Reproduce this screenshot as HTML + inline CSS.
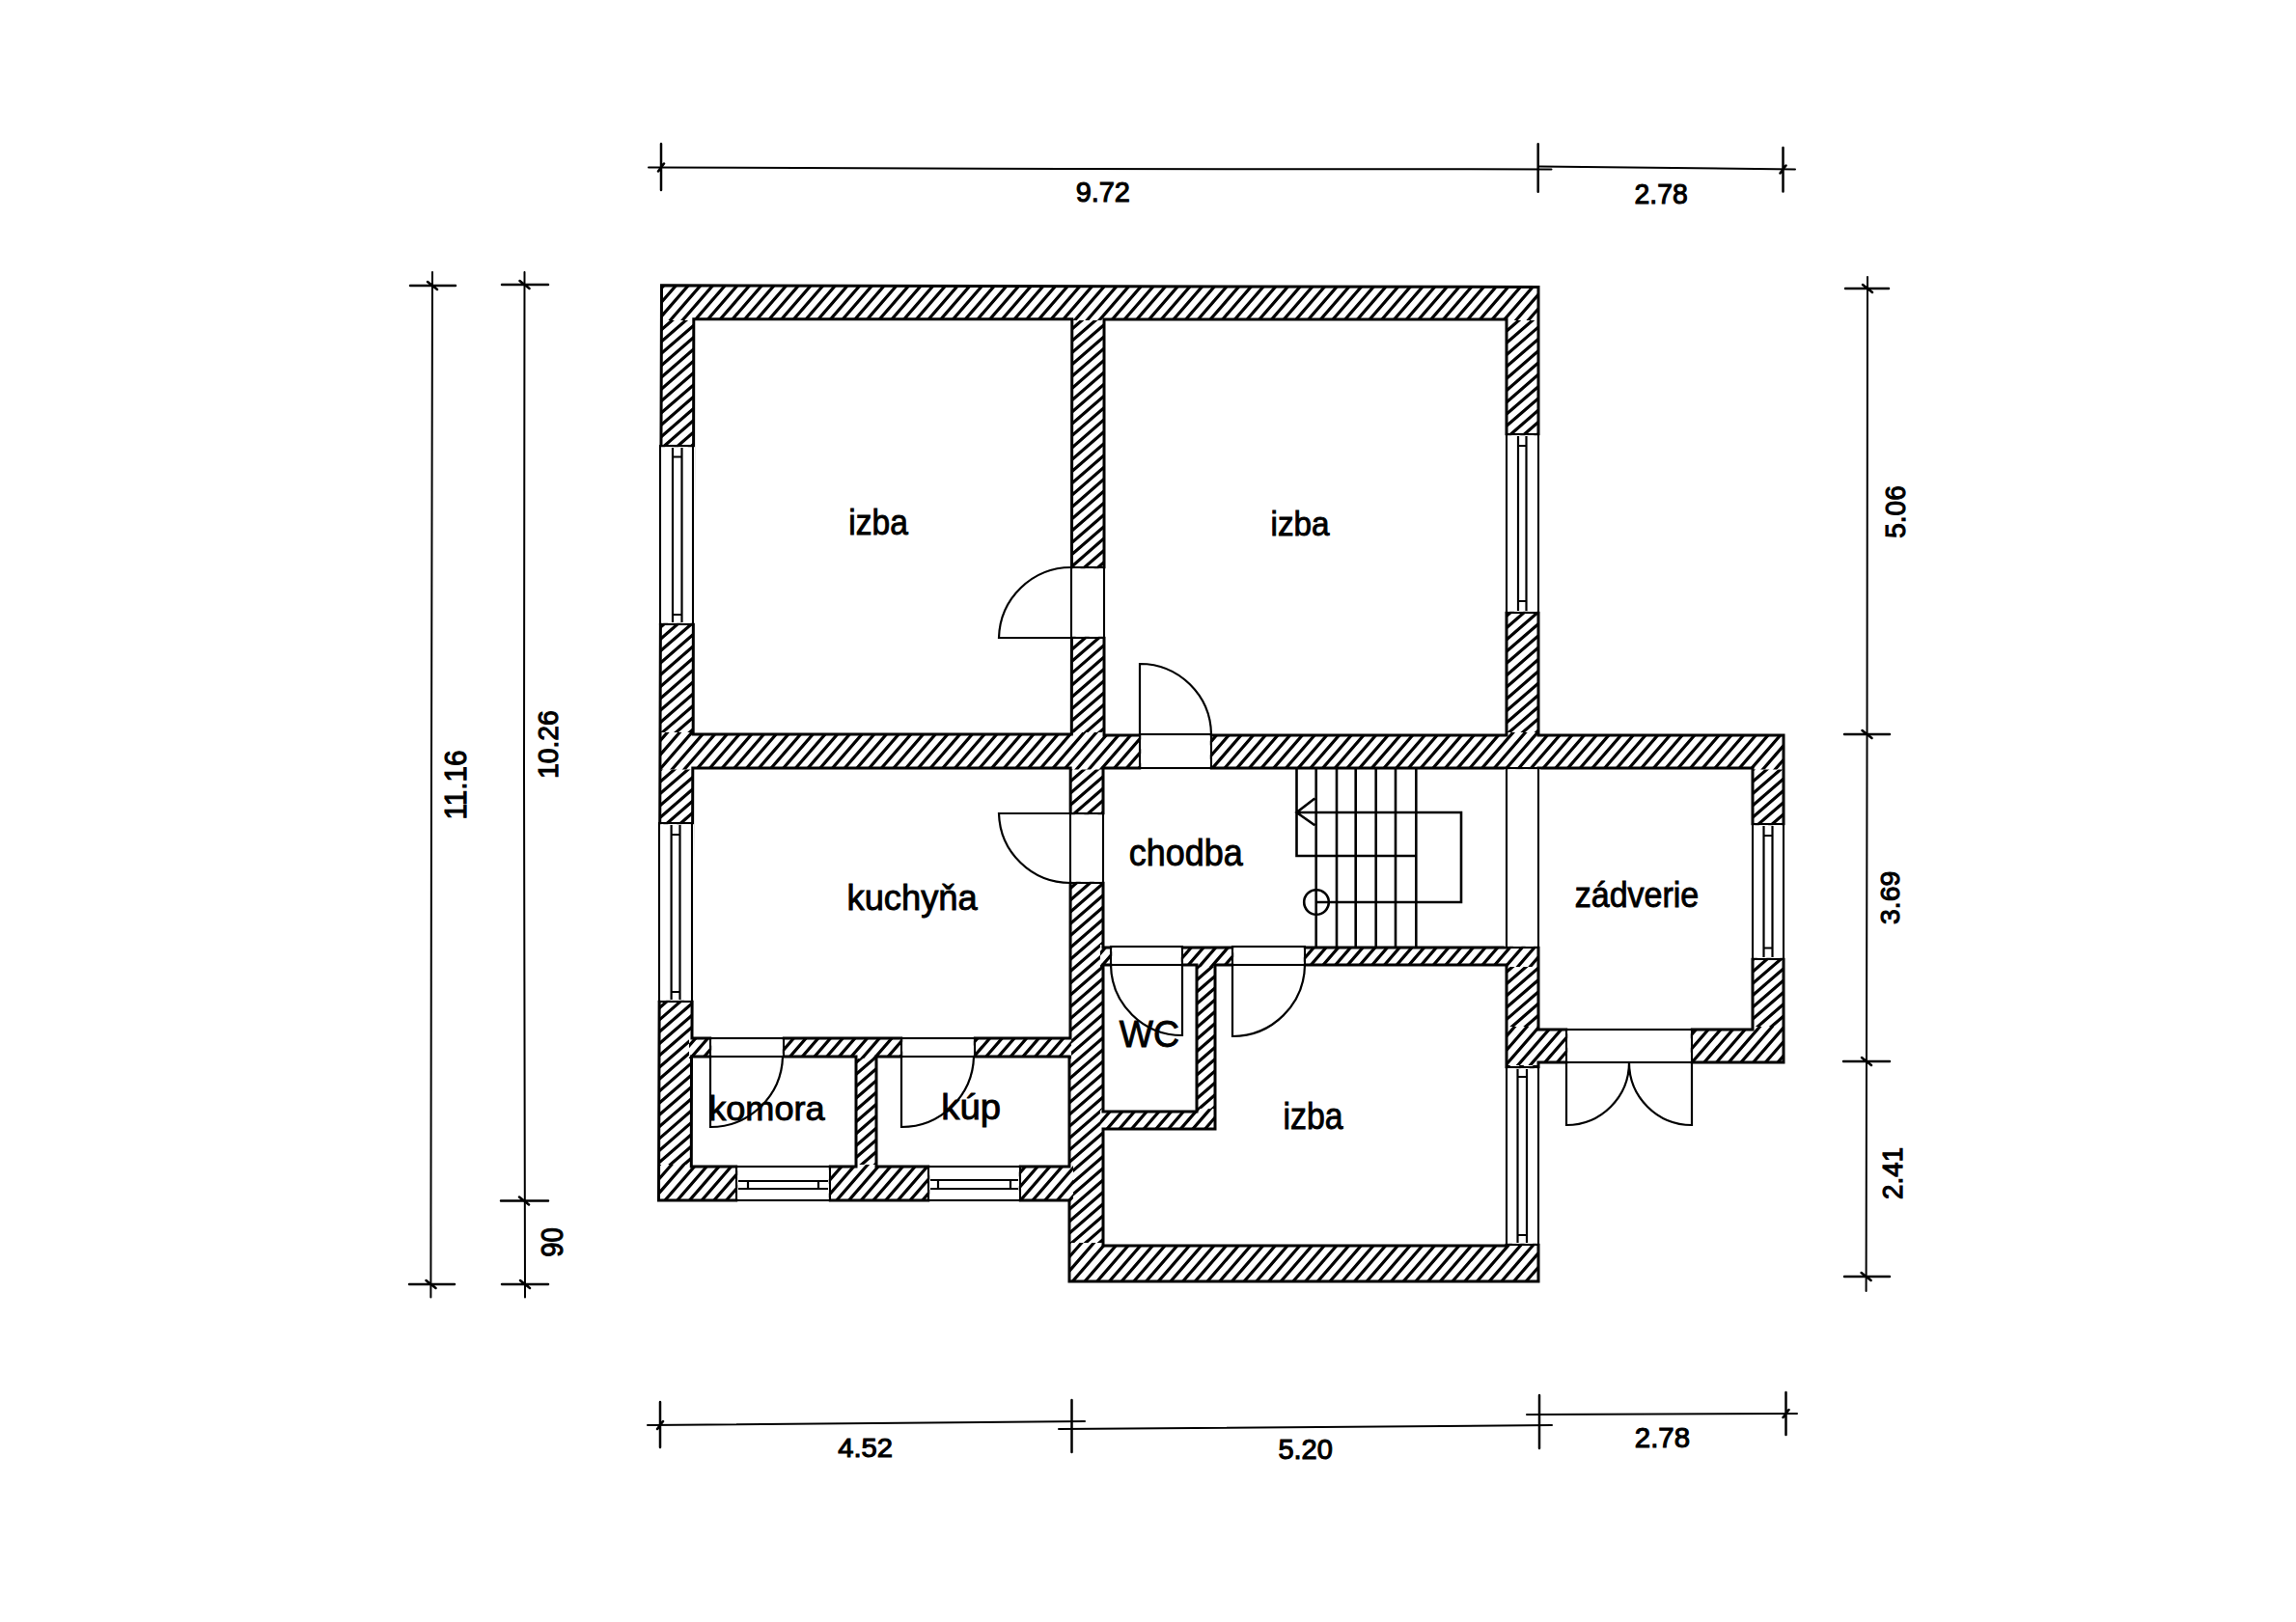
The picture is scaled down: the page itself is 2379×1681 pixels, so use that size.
<!DOCTYPE html>
<html><head><meta charset="utf-8"><title>Floor plan</title>
<style>html,body{margin:0;padding:0;background:#fff;}svg{display:block;}text{font-family:"Liberation Sans",sans-serif;fill:#000;stroke:#000;}</style>
</head><body>
<svg width="2379" height="1681" viewBox="0 0 2379 1681">
<defs><clipPath id="wc"><path clip-rule="evenodd" d="M685.5,295.8 L1594,297.5 L1594,762 L1848,762 L1848,1101 L1594,1101 L1594,1328 L1108,1328 L1108,1244 L682.5,1244 Z M718.8,330.8 L1110.8,330.8 L1110.3,761 L718.2,761 Z M1144,331 L1561,331 L1561,762 L1144,762 Z M717.8,796 L1109.2,796 L1109,1076 L717,1076 Z M1143,796 L1561,796 L1561,982 L1143,982 Z M1594,796 L1816,796 L1816,1067 L1594,1067 Z M1143,1000 L1240,1000 L1240,1152 L1143,1152 Z M1259,1000 L1561,1000 L1561,1291 L1143,1291 L1143,1170 L1259,1170 Z M716.5,1095 L887,1095 L887,1209 L716.3,1209 Z M908,1095 L1108,1095 L1108,1209 L908,1209 Z"/></clipPath><clipPath id="hc"><path d="M678,288 H1600 V332 H678 Z M678,759 H1852 V797.5 H678 Z M714,1073 H1110 V1097 H714 Z M678,1207 H1112 V1248 H678 Z M1140,979 H1598 V1002 H1140 Z M1140,1149 H1262 V1173 H1140 Z M1104,1288 H1598 V1332 H1104 Z M1556,1064 H1852 V1104 H1556 Z"/></clipPath><clipPath id="vc"><path clip-rule="evenodd" d="M0,0 H2379 V1681 H0 Z M678,288 H1600 V332 H678 Z M678,759 H1852 V797.5 H678 Z M714,1073 H1110 V1097 H714 Z M678,1207 H1112 V1248 H678 Z M1140,979 H1598 V1002 H1140 Z M1140,1149 H1262 V1173 H1140 Z M1104,1288 H1598 V1332 H1104 Z M1556,1064 H1852 V1104 H1556 Z"/></clipPath></defs>
<g clip-path="url(#wc)"><g clip-path="url(#hc)"><path d="M5.17,0 L-1456.10,1681 M17.87,0 L-1443.40,1681 M30.57,0 L-1430.70,1681 M43.27,0 L-1418.00,1681 M55.97,0 L-1405.30,1681 M68.67,0 L-1392.60,1681 M81.37,0 L-1379.90,1681 M94.07,0 L-1367.20,1681 M106.77,0 L-1354.50,1681 M119.47,0 L-1341.80,1681 M132.17,0 L-1329.10,1681 M144.87,0 L-1316.40,1681 M157.57,0 L-1303.70,1681 M170.27,0 L-1291.00,1681 M182.97,0 L-1278.30,1681 M195.67,0 L-1265.60,1681 M208.37,0 L-1252.90,1681 M221.07,0 L-1240.20,1681 M233.77,0 L-1227.50,1681 M246.47,0 L-1214.80,1681 M259.17,0 L-1202.10,1681 M271.87,0 L-1189.40,1681 M284.57,0 L-1176.70,1681 M297.27,0 L-1164.00,1681 M309.97,0 L-1151.30,1681 M322.67,0 L-1138.60,1681 M335.37,0 L-1125.90,1681 M348.07,0 L-1113.20,1681 M360.77,0 L-1100.50,1681 M373.47,0 L-1087.80,1681 M386.17,0 L-1075.10,1681 M398.87,0 L-1062.40,1681 M411.57,0 L-1049.70,1681 M424.27,0 L-1037.00,1681 M436.97,0 L-1024.30,1681 M449.67,0 L-1011.60,1681 M462.37,0 L-998.90,1681 M475.07,0 L-986.20,1681 M487.77,0 L-973.50,1681 M500.47,0 L-960.80,1681 M513.17,0 L-948.10,1681 M525.87,0 L-935.40,1681 M538.57,0 L-922.70,1681 M551.27,0 L-910.00,1681 M563.97,0 L-897.30,1681 M576.67,0 L-884.60,1681 M589.37,0 L-871.90,1681 M602.07,0 L-859.20,1681 M614.77,0 L-846.50,1681 M627.47,0 L-833.80,1681 M640.17,0 L-821.10,1681 M652.87,0 L-808.40,1681 M665.57,0 L-795.70,1681 M678.27,0 L-783.00,1681 M690.97,0 L-770.30,1681 M703.67,0 L-757.60,1681 M716.37,0 L-744.90,1681 M729.07,0 L-732.20,1681 M741.77,0 L-719.50,1681 M754.47,0 L-706.80,1681 M767.17,0 L-694.10,1681 M779.87,0 L-681.40,1681 M792.57,0 L-668.70,1681 M805.27,0 L-656.00,1681 M817.97,0 L-643.30,1681 M830.67,0 L-630.60,1681 M843.37,0 L-617.90,1681 M856.07,0 L-605.20,1681 M868.77,0 L-592.50,1681 M881.47,0 L-579.80,1681 M894.17,0 L-567.10,1681 M906.87,0 L-554.40,1681 M919.57,0 L-541.70,1681 M932.27,0 L-529.00,1681 M944.97,0 L-516.30,1681 M957.67,0 L-503.60,1681 M970.37,0 L-490.90,1681 M983.07,0 L-478.20,1681 M995.77,0 L-465.50,1681 M1008.47,0 L-452.80,1681 M1021.17,0 L-440.10,1681 M1033.87,0 L-427.40,1681 M1046.57,0 L-414.70,1681 M1059.27,0 L-402.00,1681 M1071.97,0 L-389.30,1681 M1084.67,0 L-376.60,1681 M1097.37,0 L-363.90,1681 M1110.07,0 L-351.20,1681 M1122.77,0 L-338.50,1681 M1135.47,0 L-325.80,1681 M1148.17,0 L-313.10,1681 M1160.87,0 L-300.40,1681 M1173.57,0 L-287.70,1681 M1186.27,0 L-275.00,1681 M1198.97,0 L-262.30,1681 M1211.67,0 L-249.60,1681 M1224.37,0 L-236.90,1681 M1237.07,0 L-224.20,1681 M1249.77,0 L-211.50,1681 M1262.47,0 L-198.80,1681 M1275.17,0 L-186.10,1681 M1287.87,0 L-173.40,1681 M1300.57,0 L-160.70,1681 M1313.27,0 L-148.00,1681 M1325.97,0 L-135.30,1681 M1338.67,0 L-122.60,1681 M1351.37,0 L-109.90,1681 M1364.07,0 L-97.20,1681 M1376.77,0 L-84.50,1681 M1389.47,0 L-71.80,1681 M1402.17,0 L-59.10,1681 M1414.87,0 L-46.40,1681 M1427.57,0 L-33.70,1681 M1440.27,0 L-21.00,1681 M1452.97,0 L-8.30,1681 M1465.67,0 L4.40,1681 M1478.37,0 L17.10,1681 M1491.07,0 L29.80,1681 M1503.77,0 L42.50,1681 M1516.47,0 L55.20,1681 M1529.17,0 L67.90,1681 M1541.87,0 L80.60,1681 M1554.57,0 L93.30,1681 M1567.27,0 L106.00,1681 M1579.97,0 L118.70,1681 M1592.67,0 L131.40,1681 M1605.37,0 L144.10,1681 M1618.07,0 L156.80,1681 M1630.77,0 L169.50,1681 M1643.47,0 L182.20,1681 M1656.17,0 L194.90,1681 M1668.87,0 L207.60,1681 M1681.57,0 L220.30,1681 M1694.27,0 L233.00,1681 M1706.97,0 L245.70,1681 M1719.67,0 L258.40,1681 M1732.37,0 L271.10,1681 M1745.07,0 L283.80,1681 M1757.77,0 L296.50,1681 M1770.47,0 L309.20,1681 M1783.17,0 L321.90,1681 M1795.87,0 L334.60,1681 M1808.57,0 L347.30,1681 M1821.27,0 L360.00,1681 M1833.97,0 L372.70,1681 M1846.67,0 L385.40,1681 M1859.37,0 L398.10,1681 M1872.07,0 L410.80,1681 M1884.77,0 L423.50,1681 M1897.47,0 L436.20,1681 M1910.17,0 L448.90,1681 M1922.87,0 L461.60,1681 M1935.57,0 L474.30,1681 M1948.27,0 L487.00,1681 M1960.97,0 L499.70,1681 M1973.67,0 L512.40,1681 M1986.37,0 L525.10,1681 M1999.07,0 L537.80,1681 M2011.77,0 L550.50,1681 M2024.47,0 L563.20,1681 M2037.17,0 L575.90,1681 M2049.87,0 L588.60,1681 M2062.57,0 L601.30,1681 M2075.27,0 L614.00,1681 M2087.97,0 L626.70,1681 M2100.67,0 L639.40,1681 M2113.37,0 L652.10,1681 M2126.07,0 L664.80,1681 M2138.77,0 L677.50,1681 M2151.47,0 L690.20,1681 M2164.17,0 L702.90,1681 M2176.87,0 L715.60,1681 M2189.57,0 L728.30,1681 M2202.27,0 L741.00,1681 M2214.97,0 L753.70,1681 M2227.67,0 L766.40,1681 M2240.37,0 L779.10,1681 M2253.07,0 L791.80,1681 M2265.77,0 L804.50,1681 M2278.47,0 L817.20,1681 M2291.17,0 L829.90,1681 M2303.87,0 L842.60,1681 M2316.57,0 L855.30,1681 M2329.27,0 L868.00,1681 M2341.97,0 L880.70,1681 M2354.67,0 L893.40,1681 M2367.37,0 L906.10,1681 M2380.07,0 L918.80,1681 M2392.77,0 L931.50,1681 M2405.47,0 L944.20,1681 M2418.17,0 L956.90,1681 M2430.87,0 L969.60,1681 M2443.57,0 L982.30,1681 M2456.27,0 L995.00,1681 M2468.97,0 L1007.70,1681 M2481.67,0 L1020.40,1681 M2494.37,0 L1033.10,1681 M2507.07,0 L1045.80,1681 M2519.77,0 L1058.50,1681 M2532.47,0 L1071.20,1681 M2545.17,0 L1083.90,1681 M2557.87,0 L1096.60,1681 M2570.57,0 L1109.30,1681 M2583.27,0 L1122.00,1681 M2595.97,0 L1134.70,1681 M2608.67,0 L1147.40,1681 M2621.37,0 L1160.10,1681 M2634.07,0 L1172.80,1681 M2646.77,0 L1185.50,1681 M2659.47,0 L1198.20,1681 M2672.17,0 L1210.90,1681 M2684.87,0 L1223.60,1681 M2697.57,0 L1236.30,1681 M2710.27,0 L1249.00,1681 M2722.97,0 L1261.70,1681 M2735.67,0 L1274.40,1681 M2748.37,0 L1287.10,1681 M2761.07,0 L1299.80,1681 M2773.77,0 L1312.50,1681 M2786.47,0 L1325.20,1681 M2799.17,0 L1337.90,1681 M2811.87,0 L1350.60,1681 M2824.57,0 L1363.30,1681 M2837.27,0 L1376.00,1681 M2849.97,0 L1388.70,1681 M2862.67,0 L1401.40,1681 M2875.37,0 L1414.10,1681 M2888.07,0 L1426.80,1681 M2900.77,0 L1439.50,1681 M2913.47,0 L1452.20,1681 M2926.17,0 L1464.90,1681 M2938.87,0 L1477.60,1681 M2951.57,0 L1490.30,1681 M2964.27,0 L1503.00,1681 M2976.97,0 L1515.70,1681 M2989.67,0 L1528.40,1681 M3002.37,0 L1541.10,1681 M3015.07,0 L1553.80,1681 M3027.77,0 L1566.50,1681 M3040.47,0 L1579.20,1681 M3053.17,0 L1591.90,1681 M3065.87,0 L1604.60,1681 M3078.57,0 L1617.30,1681 M3091.27,0 L1630.00,1681 M3103.97,0 L1642.70,1681 M3116.67,0 L1655.40,1681 M3129.37,0 L1668.10,1681 M3142.07,0 L1680.80,1681 M3154.77,0 L1693.50,1681 M3167.47,0 L1706.20,1681 M3180.17,0 L1718.90,1681 M3192.87,0 L1731.60,1681 M3205.57,0 L1744.30,1681 M3218.27,0 L1757.00,1681 M3230.97,0 L1769.70,1681 M3243.67,0 L1782.40,1681 M3256.37,0 L1795.10,1681 M3269.07,0 L1807.80,1681 M3281.77,0 L1820.50,1681 M3294.47,0 L1833.20,1681 M3307.17,0 L1845.90,1681 M3319.87,0 L1858.60,1681 M3332.57,0 L1871.30,1681 M3345.27,0 L1884.00,1681 M3357.97,0 L1896.70,1681 M3370.67,0 L1909.40,1681 M3383.37,0 L1922.10,1681 M3396.07,0 L1934.80,1681 M3408.77,0 L1947.50,1681 M3421.47,0 L1960.20,1681 M3434.17,0 L1972.90,1681 M3446.87,0 L1985.60,1681 M3459.57,0 L1998.30,1681 M3472.27,0 L2011.00,1681 M3484.97,0 L2023.70,1681 M3497.67,0 L2036.40,1681 M3510.37,0 L2049.10,1681 M3523.07,0 L2061.80,1681 M3535.77,0 L2074.50,1681 M3548.47,0 L2087.20,1681 M3561.17,0 L2099.90,1681 M3573.87,0 L2112.60,1681 M3586.57,0 L2125.30,1681 M3599.27,0 L2138.00,1681 M3611.97,0 L2150.70,1681 M3624.67,0 L2163.40,1681 M3637.37,0 L2176.10,1681 M3650.07,0 L2188.80,1681 M3662.77,0 L2201.50,1681 M3675.47,0 L2214.20,1681 M3688.17,0 L2226.90,1681 M3700.87,0 L2239.60,1681 M3713.57,0 L2252.30,1681 M3726.27,0 L2265.00,1681 M3738.97,0 L2277.70,1681 M3751.67,0 L2290.40,1681 M3764.37,0 L2303.10,1681 M3777.07,0 L2315.80,1681 M3789.77,0 L2328.50,1681 M3802.47,0 L2341.20,1681 M3815.17,0 L2353.90,1681 M3827.87,0 L2366.60,1681 M3840.57,0 L2379.30,1681" stroke="#000" stroke-width="3.2" fill="none"/></g><g clip-path="url(#vc)"><path d="M3.05,0 L-1930.72,1681 M17.20,0 L-1916.57,1681 M31.35,0 L-1902.42,1681 M45.50,0 L-1888.27,1681 M59.65,0 L-1874.12,1681 M73.80,0 L-1859.97,1681 M87.95,0 L-1845.82,1681 M102.10,0 L-1831.67,1681 M116.24,0 L-1817.52,1681 M130.39,0 L-1803.38,1681 M144.54,0 L-1789.23,1681 M158.69,0 L-1775.08,1681 M172.84,0 L-1760.93,1681 M186.99,0 L-1746.78,1681 M201.14,0 L-1732.63,1681 M215.29,0 L-1718.48,1681 M229.44,0 L-1704.33,1681 M243.59,0 L-1690.18,1681 M257.74,0 L-1676.03,1681 M271.89,0 L-1661.88,1681 M286.04,0 L-1647.73,1681 M300.19,0 L-1633.58,1681 M314.34,0 L-1619.43,1681 M328.49,0 L-1605.28,1681 M342.64,0 L-1591.13,1681 M356.79,0 L-1576.98,1681 M370.94,0 L-1562.83,1681 M385.09,0 L-1548.68,1681 M399.24,0 L-1534.53,1681 M413.38,0 L-1520.38,1681 M427.53,0 L-1506.23,1681 M441.68,0 L-1492.09,1681 M455.83,0 L-1477.94,1681 M469.98,0 L-1463.79,1681 M484.13,0 L-1449.64,1681 M498.28,0 L-1435.49,1681 M512.43,0 L-1421.34,1681 M526.58,0 L-1407.19,1681 M540.73,0 L-1393.04,1681 M554.88,0 L-1378.89,1681 M569.03,0 L-1364.74,1681 M583.18,0 L-1350.59,1681 M597.33,0 L-1336.44,1681 M611.48,0 L-1322.29,1681 M625.63,0 L-1308.14,1681 M639.78,0 L-1293.99,1681 M653.93,0 L-1279.84,1681 M668.08,0 L-1265.69,1681 M682.23,0 L-1251.54,1681 M696.38,0 L-1237.39,1681 M710.53,0 L-1223.24,1681 M724.67,0 L-1209.09,1681 M738.82,0 L-1194.95,1681 M752.97,0 L-1180.80,1681 M767.12,0 L-1166.65,1681 M781.27,0 L-1152.50,1681 M795.42,0 L-1138.35,1681 M809.57,0 L-1124.20,1681 M823.72,0 L-1110.05,1681 M837.87,0 L-1095.90,1681 M852.02,0 L-1081.75,1681 M866.17,0 L-1067.60,1681 M880.32,0 L-1053.45,1681 M894.47,0 L-1039.30,1681 M908.62,0 L-1025.15,1681 M922.77,0 L-1011.00,1681 M936.92,0 L-996.85,1681 M951.07,0 L-982.70,1681 M965.22,0 L-968.55,1681 M979.37,0 L-954.40,1681 M993.52,0 L-940.25,1681 M1007.67,0 L-926.10,1681 M1021.81,0 L-911.95,1681 M1035.96,0 L-897.80,1681 M1050.11,0 L-883.66,1681 M1064.26,0 L-869.51,1681 M1078.41,0 L-855.36,1681 M1092.56,0 L-841.21,1681 M1106.71,0 L-827.06,1681 M1120.86,0 L-812.91,1681 M1135.01,0 L-798.76,1681 M1149.16,0 L-784.61,1681 M1163.31,0 L-770.46,1681 M1177.46,0 L-756.31,1681 M1191.61,0 L-742.16,1681 M1205.76,0 L-728.01,1681 M1219.91,0 L-713.86,1681 M1234.06,0 L-699.71,1681 M1248.21,0 L-685.56,1681 M1262.36,0 L-671.41,1681 M1276.51,0 L-657.26,1681 M1290.66,0 L-643.11,1681 M1304.81,0 L-628.96,1681 M1318.95,0 L-614.81,1681 M1333.10,0 L-600.66,1681 M1347.25,0 L-586.52,1681 M1361.40,0 L-572.37,1681 M1375.55,0 L-558.22,1681 M1389.70,0 L-544.07,1681 M1403.85,0 L-529.92,1681 M1418.00,0 L-515.77,1681 M1432.15,0 L-501.62,1681 M1446.30,0 L-487.47,1681 M1460.45,0 L-473.32,1681 M1474.60,0 L-459.17,1681 M1488.75,0 L-445.02,1681 M1502.90,0 L-430.87,1681 M1517.05,0 L-416.72,1681 M1531.20,0 L-402.57,1681 M1545.35,0 L-388.42,1681 M1559.50,0 L-374.27,1681 M1573.65,0 L-360.12,1681 M1587.80,0 L-345.97,1681 M1601.95,0 L-331.82,1681 M1616.10,0 L-317.67,1681 M1630.24,0 L-303.52,1681 M1644.39,0 L-289.38,1681 M1658.54,0 L-275.23,1681 M1672.69,0 L-261.08,1681 M1686.84,0 L-246.93,1681 M1700.99,0 L-232.78,1681 M1715.14,0 L-218.63,1681 M1729.29,0 L-204.48,1681 M1743.44,0 L-190.33,1681 M1757.59,0 L-176.18,1681 M1771.74,0 L-162.03,1681 M1785.89,0 L-147.88,1681 M1800.04,0 L-133.73,1681 M1814.19,0 L-119.58,1681 M1828.34,0 L-105.43,1681 M1842.49,0 L-91.28,1681 M1856.64,0 L-77.13,1681 M1870.79,0 L-62.98,1681 M1884.94,0 L-48.83,1681 M1899.09,0 L-34.68,1681 M1913.24,0 L-20.53,1681 M1927.38,0 L-6.38,1681 M1941.53,0 L7.77,1681 M1955.68,0 L21.91,1681 M1969.83,0 L36.06,1681 M1983.98,0 L50.21,1681 M1998.13,0 L64.36,1681 M2012.28,0 L78.51,1681 M2026.43,0 L92.66,1681 M2040.58,0 L106.81,1681 M2054.73,0 L120.96,1681 M2068.88,0 L135.11,1681 M2083.03,0 L149.26,1681 M2097.18,0 L163.41,1681 M2111.33,0 L177.56,1681 M2125.48,0 L191.71,1681 M2139.63,0 L205.86,1681 M2153.78,0 L220.01,1681 M2167.93,0 L234.16,1681 M2182.08,0 L248.31,1681 M2196.23,0 L262.46,1681 M2210.38,0 L276.61,1681 M2224.52,0 L290.76,1681 M2238.67,0 L304.91,1681 M2252.82,0 L319.05,1681 M2266.97,0 L333.20,1681 M2281.12,0 L347.35,1681 M2295.27,0 L361.50,1681 M2309.42,0 L375.65,1681 M2323.57,0 L389.80,1681 M2337.72,0 L403.95,1681 M2351.87,0 L418.10,1681 M2366.02,0 L432.25,1681 M2380.17,0 L446.40,1681 M2394.32,0 L460.55,1681 M2408.47,0 L474.70,1681 M2422.62,0 L488.85,1681 M2436.77,0 L503.00,1681 M2450.92,0 L517.15,1681 M2465.07,0 L531.30,1681 M2479.22,0 L545.45,1681 M2493.37,0 L559.60,1681 M2507.52,0 L573.75,1681 M2521.67,0 L587.90,1681 M2535.81,0 L602.05,1681 M2549.96,0 L616.19,1681 M2564.11,0 L630.34,1681 M2578.26,0 L644.49,1681 M2592.41,0 L658.64,1681 M2606.56,0 L672.79,1681 M2620.71,0 L686.94,1681 M2634.86,0 L701.09,1681 M2649.01,0 L715.24,1681 M2663.16,0 L729.39,1681 M2677.31,0 L743.54,1681 M2691.46,0 L757.69,1681 M2705.61,0 L771.84,1681 M2719.76,0 L785.99,1681 M2733.91,0 L800.14,1681 M2748.06,0 L814.29,1681 M2762.21,0 L828.44,1681 M2776.36,0 L842.59,1681 M2790.51,0 L856.74,1681 M2804.66,0 L870.89,1681 M2818.81,0 L885.04,1681 M2832.95,0 L899.19,1681 M2847.10,0 L913.34,1681 M2861.25,0 L927.48,1681 M2875.40,0 L941.63,1681 M2889.55,0 L955.78,1681 M2903.70,0 L969.93,1681 M2917.85,0 L984.08,1681 M2932.00,0 L998.23,1681 M2946.15,0 L1012.38,1681 M2960.30,0 L1026.53,1681 M2974.45,0 L1040.68,1681 M2988.60,0 L1054.83,1681 M3002.75,0 L1068.98,1681 M3016.90,0 L1083.13,1681 M3031.05,0 L1097.28,1681 M3045.20,0 L1111.43,1681 M3059.35,0 L1125.58,1681 M3073.50,0 L1139.73,1681 M3087.65,0 L1153.88,1681 M3101.80,0 L1168.03,1681 M3115.95,0 L1182.18,1681 M3130.09,0 L1196.33,1681 M3144.24,0 L1210.48,1681 M3158.39,0 L1224.62,1681 M3172.54,0 L1238.77,1681 M3186.69,0 L1252.92,1681 M3200.84,0 L1267.07,1681 M3214.99,0 L1281.22,1681 M3229.14,0 L1295.37,1681 M3243.29,0 L1309.52,1681 M3257.44,0 L1323.67,1681 M3271.59,0 L1337.82,1681 M3285.74,0 L1351.97,1681 M3299.89,0 L1366.12,1681 M3314.04,0 L1380.27,1681 M3328.19,0 L1394.42,1681 M3342.34,0 L1408.57,1681 M3356.49,0 L1422.72,1681 M3370.64,0 L1436.87,1681 M3384.79,0 L1451.02,1681 M3398.94,0 L1465.17,1681 M3413.09,0 L1479.32,1681 M3427.24,0 L1493.47,1681 M3441.38,0 L1507.62,1681 M3455.53,0 L1521.76,1681 M3469.68,0 L1535.91,1681 M3483.83,0 L1550.06,1681 M3497.98,0 L1564.21,1681 M3512.13,0 L1578.36,1681 M3526.28,0 L1592.51,1681 M3540.43,0 L1606.66,1681 M3554.58,0 L1620.81,1681 M3568.73,0 L1634.96,1681 M3582.88,0 L1649.11,1681 M3597.03,0 L1663.26,1681 M3611.18,0 L1677.41,1681 M3625.33,0 L1691.56,1681 M3639.48,0 L1705.71,1681 M3653.63,0 L1719.86,1681 M3667.78,0 L1734.01,1681 M3681.93,0 L1748.16,1681 M3696.08,0 L1762.31,1681 M3710.23,0 L1776.46,1681 M3724.38,0 L1790.61,1681 M3738.52,0 L1804.76,1681 M3752.67,0 L1818.91,1681 M3766.82,0 L1833.05,1681 M3780.97,0 L1847.20,1681 M3795.12,0 L1861.35,1681 M3809.27,0 L1875.50,1681 M3823.42,0 L1889.65,1681 M3837.57,0 L1903.80,1681 M3851.72,0 L1917.95,1681 M3865.87,0 L1932.10,1681 M3880.02,0 L1946.25,1681 M3894.17,0 L1960.40,1681 M3908.32,0 L1974.55,1681 M3922.47,0 L1988.70,1681 M3936.62,0 L2002.85,1681 M3950.77,0 L2017.00,1681 M3964.92,0 L2031.15,1681 M3979.07,0 L2045.30,1681 M3993.22,0 L2059.45,1681 M4007.37,0 L2073.60,1681 M4021.52,0 L2087.75,1681 M4035.66,0 L2101.90,1681 M4049.81,0 L2116.05,1681 M4063.96,0 L2130.19,1681 M4078.11,0 L2144.34,1681 M4092.26,0 L2158.49,1681 M4106.41,0 L2172.64,1681 M4120.56,0 L2186.79,1681 M4134.71,0 L2200.94,1681 M4148.86,0 L2215.09,1681 M4163.01,0 L2229.24,1681 M4177.16,0 L2243.39,1681 M4191.31,0 L2257.54,1681 M4205.46,0 L2271.69,1681 M4219.61,0 L2285.84,1681 M4233.76,0 L2299.99,1681 M4247.91,0 L2314.14,1681 M4262.06,0 L2328.29,1681 M4276.21,0 L2342.44,1681 M4290.36,0 L2356.59,1681 M4304.51,0 L2370.74,1681 M4318.66,0 L2384.89,1681" stroke="#000" stroke-width="3.2" fill="none"/></g></g>
<path d="M685.5,295.8 L1594,297.5 L1594,762 L1848,762 L1848,1101 L1594,1101 L1594,1328 L1108,1328 L1108,1244 L682.5,1244 Z M718.8,330.8 L1110.8,330.8 L1110.3,761 L718.2,761 Z M1144,331 L1561,331 L1561,762 L1144,762 Z M717.8,796 L1109.2,796 L1109,1076 L717,1076 Z M1143,796 L1561,796 L1561,982 L1143,982 Z M1594,796 L1816,796 L1816,1067 L1594,1067 Z M1143,1000 L1240,1000 L1240,1152 L1143,1152 Z M1259,1000 L1561,1000 L1561,1291 L1143,1291 L1143,1170 L1259,1170 Z M716.5,1095 L887,1095 L887,1209 L716.3,1209 Z M908,1095 L1108,1095 L1108,1209 L908,1209 Z" fill="none" stroke="#000" stroke-width="3" stroke-linejoin="miter"/>
<rect x="681.8" y="463.2" width="38.4" height="182.6" fill="#fff"/>
<rect x="680.8" y="854.2" width="38.4" height="182.6" fill="#fff"/>
<rect x="1558.8" y="451.2" width="37.4" height="182.6" fill="#fff"/>
<rect x="1813.8" y="855.2" width="36.4" height="137.6" fill="#fff"/>
<rect x="1558.8" y="1107.2" width="37.4" height="181.6" fill="#fff"/>
<rect x="764.2" y="1206.8" width="94.6" height="39.4" fill="#fff"/>
<rect x="963.2" y="1206.8" width="92.6" height="39.4" fill="#fff"/>
<rect x="1107.8" y="589.2" width="38.4" height="70.6" fill="#fff"/>
<rect x="1106.8" y="844.2" width="38.4" height="69.6" fill="#fff"/>
<rect x="1182.2" y="758.8" width="71.6" height="39.4" fill="#fff"/>
<rect x="1152.2" y="978.8" width="71.6" height="23.4" fill="#fff"/>
<rect x="1278.2" y="978.8" width="72.6" height="23.4" fill="#fff"/>
<rect x="737.2" y="1073.8" width="73.6" height="23.4" fill="#fff"/>
<rect x="935.2" y="1073.8" width="73.6" height="23.4" fill="#fff"/>
<rect x="1624.2" y="1064.8" width="127.6" height="38.4" fill="#fff"/>
<rect x="1558.8" y="797.2" width="37.4" height="183.6" fill="#fff"/>
<rect x="684" y="462" width="34" height="185" fill="none" stroke="#000" stroke-width="2.1"/>
<rect x="683" y="853" width="34" height="185" fill="none" stroke="#000" stroke-width="2.1"/>
<rect x="1561" y="450" width="33" height="185" fill="none" stroke="#000" stroke-width="2.1"/>
<rect x="1816" y="854" width="32" height="140" fill="none" stroke="#000" stroke-width="2.1"/>
<rect x="1561" y="1106" width="33" height="184" fill="none" stroke="#000" stroke-width="2.1"/>
<rect x="763" y="1209" width="97" height="35" fill="none" stroke="#000" stroke-width="2.1"/>
<rect x="962" y="1209" width="95" height="35" fill="none" stroke="#000" stroke-width="2.1"/>
<rect x="1110" y="588" width="34" height="73" fill="none" stroke="#000" stroke-width="2.1"/>
<rect x="1109" y="843" width="34" height="72" fill="none" stroke="#000" stroke-width="2.1"/>
<rect x="1181" y="761" width="74" height="35" fill="none" stroke="#000" stroke-width="2.1"/>
<rect x="1151" y="981" width="74" height="19" fill="none" stroke="#000" stroke-width="2.1"/>
<rect x="1277" y="981" width="75" height="19" fill="none" stroke="#000" stroke-width="2.1"/>
<rect x="736" y="1076" width="76" height="19" fill="none" stroke="#000" stroke-width="2.1"/>
<rect x="934" y="1076" width="76" height="19" fill="none" stroke="#000" stroke-width="2.1"/>
<rect x="1623" y="1067" width="130" height="34" fill="none" stroke="#000" stroke-width="2.1"/>
<rect x="1561" y="796" width="33" height="186" fill="none" stroke="#000" stroke-width="2.1"/>
<path d="M697,464 V645 M706.5,464 V645 M697,473.5 H706.5 M697,637 H706.5 M695.6,855 V1036 M704.5,855 V1036 M695.6,865 H704.5 M695.6,1028 H704.5 M1573,452 V633 M1581.5,452 V633 M1573,462 H1581.5 M1573,623 H1581.5 M1827.5,856 V992 M1836.5,856 V992 M1827.5,866 H1836.5 M1827.5,982.5 H1836.5 M1572.5,1108 V1288 M1582,1108 V1288 M1572.5,1116 H1582 M1572.5,1280 H1582 M765,1224 H858 M765,1232 H858 M775,1224 V1232 M848,1224 V1232 M964,1223 H1055 M964,1232 H1055 M972,1223 V1232 M1047,1223 V1232" fill="none" stroke="#000" stroke-width="2.2"/>
<path d="M1110,661 H1035 A75,75 0 0 1 1110,588 M1109,843 H1035 A74,74 0 0 0 1109,915 M1181,761 V688 A74,74 0 0 1 1255,761 M1225,1000 V1073 A74,74 0 0 1 1151,1000 M1277,1000 V1074 A75,75 0 0 0 1352,1000 M736,1095 V1168 A75,75 0 0 0 811,1095 M934,1095 V1168 A75,75 0 0 0 1009,1095 M1623,1101 V1166 A65,65 0 0 0 1688,1101 V1114 M1753,1101 V1166 A65,65 0 0 1 1688,1101" fill="none" stroke="#000" stroke-width="2.2"/>
<path d="M1363.7,797 V981 M1385,797 V981 M1404.7,797 V981 M1425.7,797 V981 M1446,797 V981 M1467.3,797 V981 M1343.5,797 V887 H1467 M1343.5,842 H1514 V935 H1364 M1362.3,827.5 L1343.5,842 L1362.3,855.2" fill="none" stroke="#000" stroke-width="2.6"/>
<circle cx="1364" cy="935" r="12.8" fill="none" stroke="#000" stroke-width="2.6"/>
<path d="M672,173.5 L1100,175 L1607.5,175.4 M1594,172.5 L1860,175.5 M448,282 L447,800 L446.4,1344.5 M543.5,282 L543,800 L544,1344.5 M1935,287 L1934.5,800 L1933.6,1338 M671,1477 L1124,1473 M1097,1481 L1608,1477 M1582,1466 L1862,1465" fill="none" stroke="#000" stroke-width="2" stroke-linecap="round"/>
<path d="M685,149 V197 M1593.7,149.3 V198.7 M1847.5,153 V198.5 M425,296 H472 M424,1331 H471 M520,295 H568 M519,1244.5 H568 M520,1331 H568 M1912,299 H1957 M1911,761 H1958 M1910,1100 H1958 M1911,1323 H1958 M684,1453 V1500 M1110.5,1451 V1505 M1595,1446 V1501 M1850.5,1443 V1487 M443,292 L453,300 M441.5,1327 L451.5,1335 M538.5,291 L548.5,299 M538,1240.5 L548,1248.5 M539,1327 L549,1335 M1930,295 L1940,303 M1929.5,757 L1939.5,765 M1929,1096 L1939,1104 M1928.6,1319 L1938.6,1327 M682,177.5 L688,169.5 M1844.5,179.5 L1850.5,171.5 M681,1481 L687,1473 M1847.5,1469 L1853.5,1461" fill="none" stroke="#000" stroke-width="2.5" stroke-linecap="round"/>
<text transform="translate(879.36,553.75) scale(0.9255,1)" font-size="36.23" stroke-width="0.9">izba</text>
<text transform="translate(1316.54,555.17) scale(0.9376,1)" font-size="35.48" stroke-width="0.9">izba</text>
<text transform="translate(1169.76,897.39) scale(0.9390,1)" font-size="38.27" stroke-width="0.9">chodba</text>
<text transform="translate(877.49,943.26) scale(0.9809,1)" font-size="37.03" stroke-width="0.9">kuchyňa</text>
<text transform="translate(1631.82,940.41) scale(0.9064,1)" font-size="37.50" stroke-width="0.9">zádverie</text>
<text transform="translate(1159.79,1085.10) scale(0.9671,1)" font-size="38.55" stroke-width="0.9">WC</text>
<text transform="translate(1329.51,1170.11) scale(0.8836,1)" font-size="38.27" stroke-width="0.9">izba</text>
<text transform="translate(734.20,1160.96) scale(1.0332,1)" font-size="34.96" stroke-width="0.9">komora</text>
<text transform="translate(975.37,1160.16) scale(1.0451,1)" font-size="36.62" stroke-width="0.9">kúp</text>
<text transform="translate(1114.63,208.50) scale(0.9649,1)" font-size="30.00" stroke-width="1.1">9.72</text>
<text transform="translate(1693.52,211.40) scale(0.9449,1)" font-size="30.00" stroke-width="1.1">2.78</text>
<text transform="translate(868.30,1509.54) scale(1.0233,1)" font-size="28.51" stroke-width="1.1">4.52</text>
<text transform="translate(1324.41,1512.11) scale(1.0071,1)" font-size="28.76" stroke-width="1.1">5.20</text>
<text transform="translate(1693.81,1500.10) scale(1.0124,1)" font-size="29.02" stroke-width="1.1">2.78</text>
<text transform="translate(482.89,849.59) rotate(-90) scale(0.9562,1)" font-size="31.11" stroke-width="1.1">11.16</text>
<text transform="translate(578.43,806.94) rotate(-90) scale(0.9581,1)" font-size="29.54" stroke-width="1.1">10.26</text>
<text transform="translate(582.98,1302.76) rotate(-90) scale(0.8969,1)" font-size="30.55" stroke-width="1.1">90</text>
<text transform="translate(1973.56,557.76) rotate(-90) scale(0.9773,1)" font-size="28.65" stroke-width="1.1">5.06</text>
<text transform="translate(1968.05,958.00) rotate(-90) scale(0.9979,1)" font-size="28.51" stroke-width="1.1">3.69</text>
<text transform="translate(1971.23,1242.88) rotate(-90) scale(0.9587,1)" font-size="28.92" stroke-width="1.1">2.41</text>
</svg>
</body></html>
